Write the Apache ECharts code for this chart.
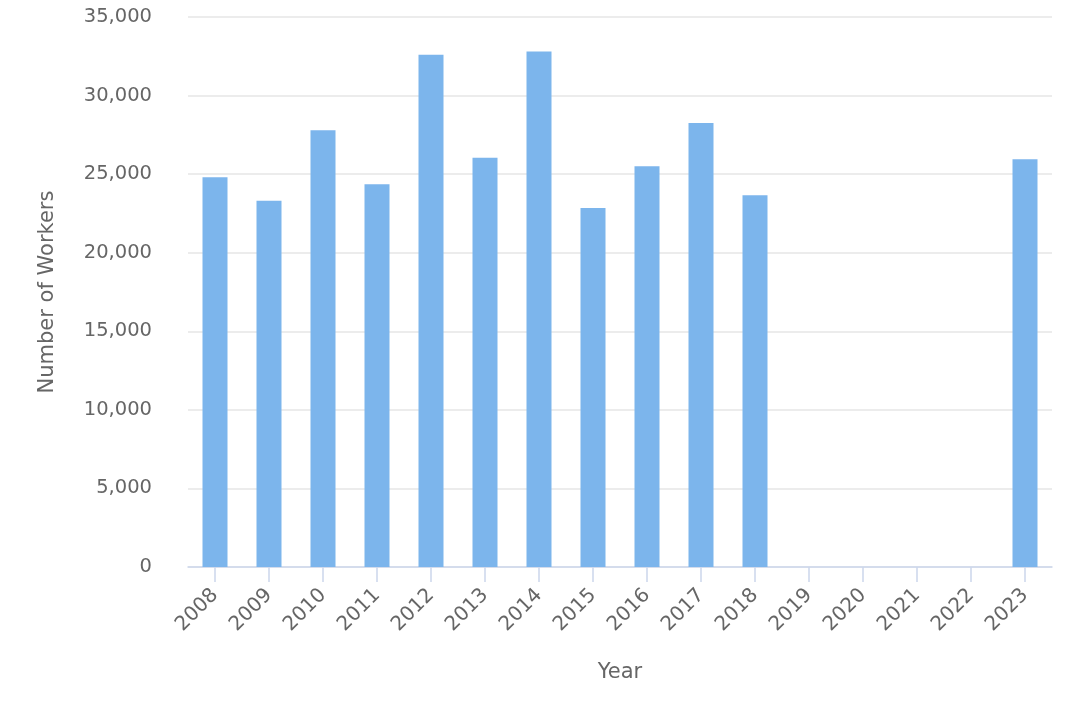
<!DOCTYPE html>
<html>
<head>
<meta charset="utf-8">
<script src="https://cdn.jsdelivr.net/npm/echarts@6/dist/echarts.min.js"></script>
<style>html,body{margin:0;padding:0;background:#fff;}#c{width:1080px;height:720px;}</style>
</head>
<body>
<div id="c"></div>
<script>
const years = ['2008','2009','2010','2011','2012','2013','2014','2015','2016','2017','2018','2019','2020','2021','2022','2023'];
const workers = [24800, 23300, 27800, 24350, 32600, 26050, 32800, 22850, 25500, 28250, 23650, null, null, null, null, 25950];
const yTicks = [0, 5000, 10000, 15000, 20000, 25000, 30000, 35000];

const chart = echarts.init(document.getElementById('c'));
const font = 'DejaVu Sans';
chart.setOption({
  animation: false,
  backgroundColor: '#ffffff',
  grid: { left: 188, right: 28, top: 17, bottom: 153, outerBoundsMode: 'none', containLabel: false },
  xAxis: {
    type: 'category',
    data: years,
    name: 'Year',
    nameLocation: 'middle',
    nameGap: 95,
    nameTextStyle: { color: '#666666', fontSize: 21, fontFamily: font },
    axisLine: { lineStyle: { color: '#ccd6eb', width: 1.5 } },
    axisTick: { show: true, alignWithLabel: true, length: 15, lineStyle: { color: '#ccd6eb', width: 1.5 } },
    axisLabel: { rotate: 45, color: '#666666', fontSize: 20, fontFamily: font, margin: 25, interval: 0 }
  },
  yAxis: {
    type: 'value',
    min: yTicks[0],
    max: yTicks[yTicks.length - 1],
    interval: 5000,
    name: 'Number of Workers',
    nameLocation: 'middle',
    nameGap: 130,
    nameRotate: 90,
    nameTextStyle: { color: '#666666', fontSize: 21, fontFamily: font },
    axisLine: { show: false },
    axisTick: { show: false },
    splitLine: { lineStyle: { color: '#e6e6e6', width: 1.5 } },
    axisLabel: {
      color: '#666666', fontSize: 19.5, fontFamily: font, margin: 36,
      padding: [0, 0, 8, 0],
      formatter: v => v.toLocaleString('en-US')
    }
  },
  series: [{
    type: 'bar',
    data: workers,
    barWidth: 25,
    itemStyle: { color: '#7cb5ec' }
  }]
});
</script>
</body>
</html>
